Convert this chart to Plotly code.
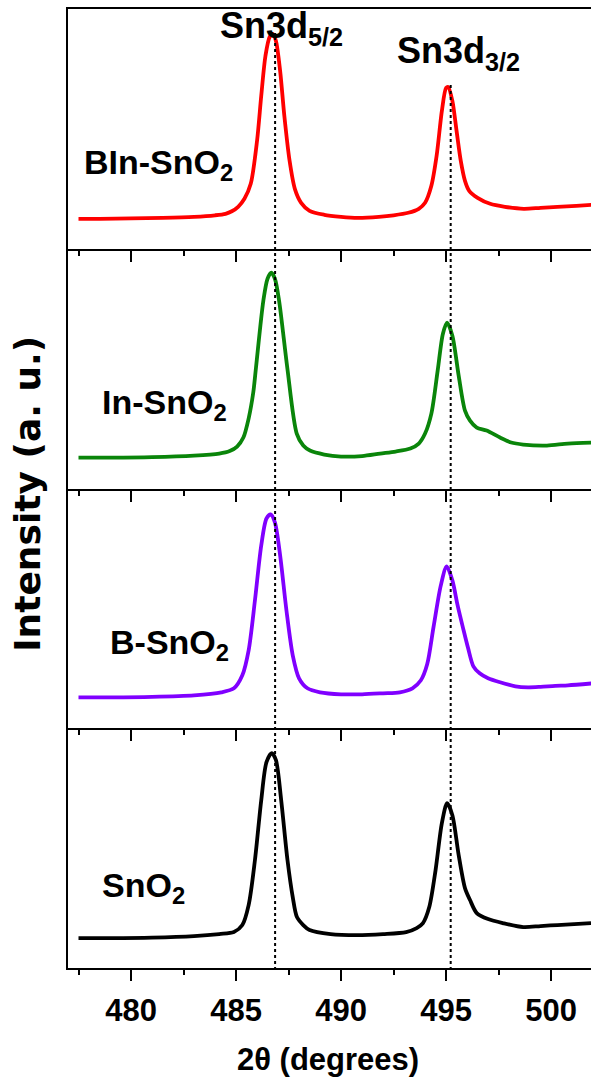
import plotly.graph_objects as go
from plotly.subplots import make_subplots

# ---- data (binding energy / intensity, arbitrary units) ----
x_bin = [477.5, 478.5, 480, 481.5, 483, 484, 484.5, 484.8, 485.1, 485.4, 485.7, 486.0, 486.2, 486.4, 486.6, 486.75,
         486.9, 487.1, 487.3, 487.55, 487.8, 488.1, 488.5, 489.2, 490, 490.8, 491.8, 492.5, 493.2, 493.7, 494.0,
         494.3, 494.55, 494.8, 495.0, 495.1, 495.3, 495.5, 495.7, 495.9, 496.1, 496.5, 497.1, 497.8, 498.7,
         499.5, 500.3, 501.2, 502]
y_bin = [30, 30, 30.5, 31, 32, 33.5, 35, 37.5, 42, 50, 65, 108, 153, 193, 212, 215,
         208, 178, 133, 88, 60, 46, 38, 34, 32, 31, 32, 33.5, 36, 40, 46,
         63, 93, 138, 161, 162, 148, 118, 88, 68, 58, 51, 45, 42, 40,
         41, 42, 43, 44]

x_in = [477.5, 479, 481, 483, 484.2, 484.7, 485.05, 485.35, 485.6, 485.82, 485.95, 486.3, 486.5, 486.68, 486.85,
        487.05, 487.44, 487.89, 488.2, 488.52, 489.2, 490, 491, 491.86, 492.6, 493.3, 493.7, 494.0, 494.3, 494.6,
        494.85, 495.05, 495.3, 495.6, 495.9, 496.14, 496.46, 496.93, 497.57, 498.1, 498.67, 499.8, 500.8, 502]
y_in = [31, 31, 31.5, 33, 35, 37.5, 42, 51, 70, 96, 121, 188, 210, 216, 210,
        188, 121, 55, 43, 38, 34, 32, 32.5, 35, 37, 40, 45, 55, 75, 118,
        155, 166, 153, 113, 78, 68, 61, 58, 51, 46, 44, 43, 45, 46]

x_b = [477.5, 479, 481, 483, 484.3, 484.9, 485.3, 485.6, 485.9, 486.2, 486.45, 486.65, 486.85, 487.1, 487.4,
       487.7, 488.0, 488.4, 489, 490, 491, 492, 492.8, 493.4, 493.8, 494.1, 494.4, 494.75, 495.03, 495.3, 495.55,
       495.8, 496.05, 496.3, 496.6, 497.0, 497.57, 498.3, 498.9, 499.5, 500.2, 500.8, 502]
y_b = [31, 31, 31.5, 33, 36, 40, 53, 78, 128, 183, 210, 214, 206, 173, 118,
       73, 50, 40, 36, 34, 34, 35, 36, 40, 48, 64, 101, 143, 162, 148, 123,
       101, 80, 62, 55, 50, 46, 42, 41, 41.5, 42.5, 43, 45]

x_sn = [477.5, 479, 481, 483, 484.2, 484.9, 485.3, 485.6, 485.9, 486.2, 486.45, 486.7, 486.9, 487.15, 487.45,
        487.7, 487.9, 488.2, 488.5, 489.5, 490.75, 492, 493.1, 493.6, 493.9, 494.2, 494.5, 494.8, 495.05, 495.3,
        495.6, 495.9, 496.14, 496.46, 497.0, 497.7, 498.67, 499.5, 500.3, 501.9]
y_sn = [30, 30, 30.5, 32, 34, 36, 43, 63, 108, 168, 206, 215, 208, 168, 108,
        71, 51, 43, 38, 34, 33, 34, 36, 40, 45, 61, 98, 145, 165, 153,
        113, 80, 68, 55, 49, 45, 41, 42, 43, 45]

series_names = ["BIn-SnO<sub>2</sub>", "In-SnO<sub>2</sub>", "B-SnO<sub>2</sub>", "SnO<sub>2</sub>"]
series_x = [x_bin, x_in, x_b, x_sn]
series_y = [y_bin, y_in, y_b, y_sn]
series_colors = ["#ff0000", "#0a850a", "#8000ff", "#000000"]
label_x = [477.67, 478.52, 478.9, 478.52]
label_y = [84, 84, 84, 81]

peak_positions = [486.86, 495.22]
peak_labels = ["Sn3d<sub>5/2</sub>", "Sn3d<sub>3/2</sub>"]
peak_label_x = [484.14, 492.57]
peak_label_y = [221, 196]

x_ticks = [480, 485, 490, 495, 500]

FONT = "Liberation Sans, Arial, sans-serif"

fig = make_subplots(rows=4, cols=1, shared_xaxes=True, vertical_spacing=0)

for i in range(4):
    fig.add_trace(go.Scatter(x=series_x[i], y=series_y[i], mode="lines",
                             line=dict(color=series_colors[i], width=3.8, shape="spline", smoothing=0.8),
                             showlegend=False, hoverinfo="skip"), row=i + 1, col=1)
    fig.add_annotation(x=label_x[i], y=label_y[i], xref=f"x{i+1}" if i else "x", yref=f"y{i+1}" if i else "y",
                       text=series_names[i], showarrow=False, xanchor="left", yanchor="middle",
                       font=dict(family=FONT, size=34, color="black", weight="bold"))

for i in range(2):
    fig.add_annotation(x=peak_label_x[i], y=peak_label_y[i], xref="x", yref="y",
                       text=peak_labels[i], showarrow=False, xanchor="left", yanchor="middle",
                       font=dict(family=FONT, size=36, color="black", weight="bold"))

# dotted reference lines
line_tops = [0.975, 0.921]
for i in range(2):
    fig.add_shape(type="line", xref="x4", yref="paper", x0=peak_positions[i], x1=peak_positions[i],
                  y0=-0.002, y1=line_tops[i], line=dict(color="black", width=2, dash="dot"), layer="above")

for i in range(1, 5):
    fig.update_xaxes(range=[477, 501.9], showline=True, linewidth=2, linecolor="black",
                     mirror=(i == 1), showgrid=False, zeroline=False, automargin=False,
                     ticks="outside", ticklen=11, tickwidth=2, tickcolor="black",
                     tickmode="array", tickvals=x_ticks, ticktext=[str(t) for t in x_ticks],
                     minor=dict(ticks="outside", ticklen=5, tickwidth=2, tickcolor="black", dtick=2.5, tick0=477.5,
                                showgrid=False),
                     showticklabels=(i == 4), ticklabelstandoff=3,
                     tickfont=dict(family=FONT, size=31, color="black", weight="bold"),
                     row=i, col=1)
    fig.update_yaxes(range=[0, 240], showline=True, linewidth=2, linecolor="black", showgrid=False,
                     zeroline=False, showticklabels=False, ticks="", automargin=False, row=i, col=1)

fig.add_annotation(x=-0.0774, y=0.494, xref="paper", yref="paper", text="Intensity (a. u.)", textangle=-90,
                   showarrow=False, xanchor="center", yanchor="middle",
                   font=dict(family="DejaVu Sans", size=36, color="black", weight="bold"))
fig.add_annotation(x=0.497, y=-0.0949, xref="paper", yref="paper", text="2θ (degrees)",
                   showarrow=False, xanchor="center", yanchor="middle",
                   font=dict(family=FONT, size=31, color="black", weight="bold"))

fig.update_layout(width=591, height=1084, margin=dict(l=68, r=0, t=9, b=116),
                  plot_bgcolor="white", paper_bgcolor="white", showlegend=False)

# remove the default page margin / scrollbars so the figure fills the window exactly
fig.write_html("out.html", config={"displayModeBar": False},
               post_script="document.body.style.margin='0';document.documentElement.style.overflow='hidden';"
                           "document.body.style.overflow='hidden';")
